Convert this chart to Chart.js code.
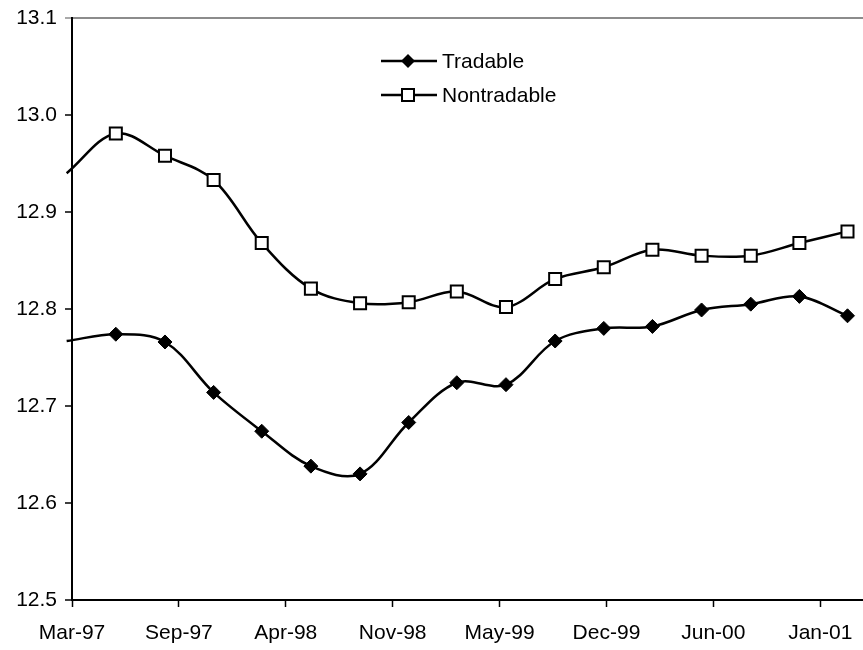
<!DOCTYPE html>
<html>
<head>
<meta charset="utf-8">
<script src="https://cdn.jsdelivr.net/npm/chart.js@4.4.1/dist/chart.umd.min.js"></script>
<style>
  html, body { margin: 0; padding: 0; background: #fff; overflow: hidden; }
  #wrap { width: 863px; height: 650px; position: relative; }
  canvas { display: block; }
</style>
</head>
<body>
<div id="wrap"><canvas id="chart"></canvas></div>
<script>
// quarterly observations (log levels)
const obsDates = [
  '1997-03-01', '1997-06-01', '1997-09-01', '1997-12-01',
  '1998-03-01', '1998-06-01', '1998-09-01', '1998-12-01',
  '1999-03-01', '1999-06-01', '1999-09-01', '1999-12-01',
  '2000-03-01', '2000-06-01', '2000-09-01', '2000-12-01',
  '2001-03-01'
];
const tradable = [12.767, 12.774, 12.766, 12.714, 12.674, 12.638, 12.630, 12.683, 12.724,
                  12.722, 12.767, 12.780, 12.782, 12.799, 12.805, 12.813, 12.793];
const nontradable = [12.940, 12.981, 12.958, 12.933, 12.868, 12.821, 12.806, 12.807, 12.818,
                     12.802, 12.831, 12.843, 12.861, 12.855, 12.855, 12.868, 12.880];
const seriesNames = ['Tradable', 'Nontradable'];

// date axis: starts at axisStart, a tick every 200 days
const axisStart = '1997-03-11';
const axisEnd = '2001-03-30';
const tickStepDays = 200;
const tickLabels = ['Mar-97', 'Sep-97', 'Apr-98', 'Nov-98', 'May-99', 'Dec-99', 'Jun-00', 'Jan-01'];
const yMin = 12.5, yMax = 13.1, yStep = 0.1;

const dayNum = s => Date.parse(s + 'T00:00:00Z') / 86400000;
const base = dayNum(obsDates[0]);
const xStart = dayNum(axisStart) - base;
const xEnd = dayNum(axisEnd) - base;
const toPoints = vals => vals.map((v, i) => ({ x: dayNum(obsDates[i]) - base, y: v }));

const FONT = "'Liberation Sans', Arial, sans-serif";
const isTop = v => Math.abs(v - yMax) < 1e-6;

// no extra room for edge labels, the plot runs to the canvas edge
const noPad = s => { s.paddingLeft = 0; s.paddingRight = 0; s.paddingTop = 0; s.paddingBottom = 0; };

// legend drawn inside the plot, line running through the marker like Excel
const excelLegend = {
  id: 'excelLegend',
  afterDraw(chart) {
    const ctx = chart.ctx;
    const rows = [61, 95];
    ctx.save();
    chart.data.datasets.forEach((ds, i) => {
      const y = rows[i];
      ctx.strokeStyle = '#000';
      ctx.lineWidth = 2.5;
      ctx.beginPath();
      ctx.moveTo(381, y);
      ctx.lineTo(437, y);
      ctx.stroke();
      const cx = 408;
      ctx.beginPath();
      if (ds.pointStyle === 'rectRot') {
        ctx.moveTo(cx, y - 7);
        ctx.lineTo(cx + 7, y);
        ctx.lineTo(cx, y + 7);
        ctx.lineTo(cx - 7, y);
        ctx.closePath();
        ctx.fillStyle = '#000';
        ctx.fill();
      } else {
        ctx.lineWidth = 2;
        ctx.rect(cx - 6, y - 6, 12, 12);
        ctx.fillStyle = '#fff';
        ctx.fill();
        ctx.stroke();
      }
      ctx.fillStyle = '#000';
      ctx.font = '21px ' + FONT;
      ctx.textBaseline = 'middle';
      ctx.textAlign = 'left';
      ctx.fillText(ds.label, 442, y + 1);
    });
    ctx.restore();
  }
};

const hideOutside = ctx => (ctx.raw && ctx.raw.x < xStart ? 0 : undefined);

new Chart(document.getElementById('chart'), {
  type: 'line',
  data: {
    datasets: [
      {
        label: seriesNames[0],
        data: toPoints(tradable),
        borderColor: '#000',
        borderWidth: 2.5,
        tension: 0.35,
        pointStyle: 'rectRot',
        pointRadius: ctx => hideOutside(ctx) ?? 7,
        pointBackgroundColor: '#000',
        pointBorderColor: '#000',
        pointBorderWidth: 1,
        clip: false
      },
      {
        label: seriesNames[1],
        data: toPoints(nontradable),
        borderColor: '#000',
        borderWidth: 2.5,
        tension: 0.35,
        pointStyle: 'rect',
        pointRadius: ctx => hideOutside(ctx) ?? 8.5,
        pointBackgroundColor: '#fff',
        pointBorderColor: '#000',
        pointBorderWidth: 2,
        clip: false
      }
    ]
  },
  options: {
    responsive: true,
    maintainAspectRatio: false,
    animation: false,
    layout: { autoPadding: false, padding: { top: 18, right: 0, left: 0, bottom: 0 } },
    plugins: {
      legend: { display: false },
      tooltip: { enabled: false }
    },
    scales: {
      x: {
        type: 'linear',
        min: xStart,
        max: xEnd,
        afterFit: s => { s.height = 50; noPad(s); },
        afterBuildTicks: s => {
          s.ticks = tickLabels.map((_, k) => ({ value: xStart + k * tickStepDays }));
        },
        ticks: {
          autoSkip: false,
          maxRotation: 0,
          padding: 14,
          color: '#000',
          font: { family: FONT, size: 21 },
          callback: (v, i) => tickLabels[i]
        },
        grid: {
          drawOnChartArea: false,
          tickColor: '#000',
          tickLength: 7,
          tickWidth: 1.5
        },
        border: { color: '#000', width: 2 }
      },
      y: {
        min: yMin,
        max: yMax,
        afterFit: s => { s.width = 72; noPad(s); },
        ticks: {
          stepSize: yStep,
          padding: 8,
          color: '#000',
          font: { family: FONT, size: 21 },
          callback: v => v.toFixed(1)
        },
        grid: {
          color: c => (c.tick && isTop(c.tick.value) ? '#8c8c8c' : 'rgba(0,0,0,0)'),
          tickColor: c => (c.tick && isTop(c.tick.value) ? '#8c8c8c' : '#000'),
          lineWidth: 2,
          tickWidth: 1.5,
          tickLength: 7
        },
        border: { color: '#000', width: 2 }
      }
    }
  },
  plugins: [excelLegend]
});
</script>
</body>
</html>
